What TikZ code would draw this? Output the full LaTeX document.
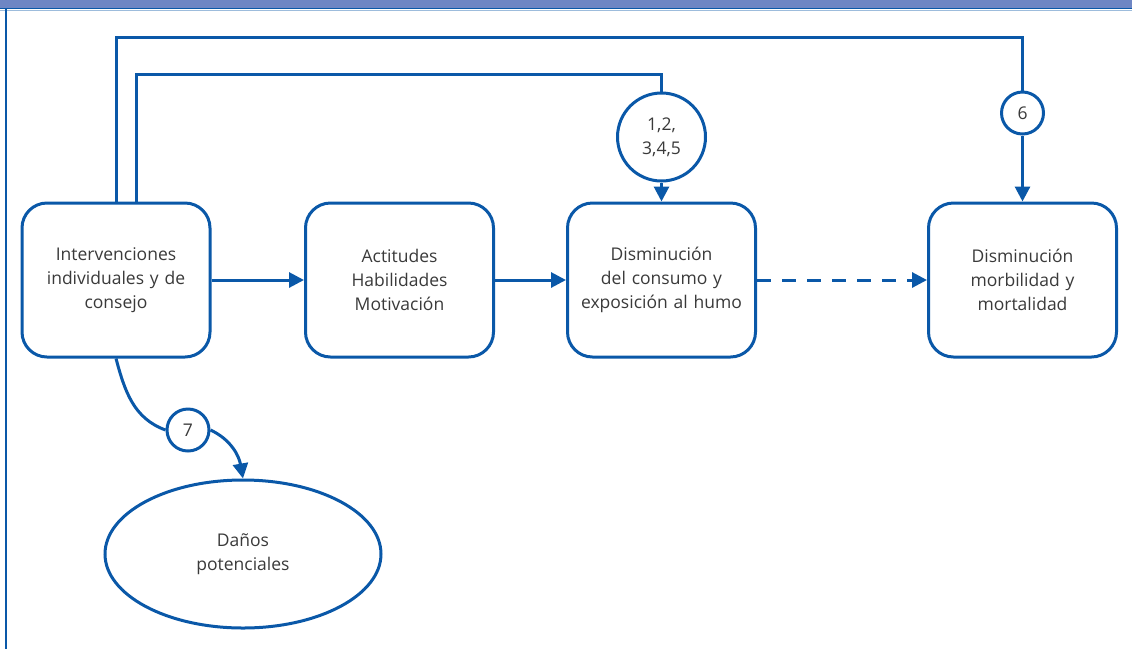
\documentclass[tikz,border=0pt]{standalone}
\usepackage{fontspec}
\setmainfont{Open Sans}
\usepackage{tikz}
\usetikzlibrary{shapes, arrows.meta, positioning, calc}
\definecolor{diagblue}{HTML}{0A58A8}
\definecolor{bandblue}{HTML}{6E86C4}
\definecolor{textgray}{HTML}{3A3A3A}
\tikzstyle{stage} = [rectangle, rounded corners=25pt, minimum width=188pt, minimum height=154pt, text width=180pt, align=center, draw=diagblue, line width=3pt, fill=white, text=textgray, font=\fontsize{17.5}{24}\selectfont]
\tikzstyle{study} = [circle, minimum size=42pt, inner sep=0pt, align=center, draw=diagblue, line width=3pt, fill=white, text=textgray, font=\fontsize{17.5}{24}\selectfont]
\tikzstyle{harm} = [ellipse, minimum width=276pt, minimum height=148pt, align=center, draw=diagblue, line width=3pt, fill=white, text=textgray, font=\fontsize{17.5}{24}\selectfont]
\tikzstyle{link} = [draw=diagblue, line width=3pt]
\tikzstyle{linkarrow} = [link, -{Triangle[length=15pt,width=15pt]}]

\begin{document}
\begin{tikzpicture}[x=1pt, y=-1pt]
\useasboundingbox (0,0) rectangle (1132,649);
\fill[bandblue] (0,0) rectangle (1132,8);
\draw[diagblue, line width=1.5pt] (0,8.5) -- (1132,8.5);
\draw[diagblue!40, line width=1pt] (0,10) -- (1132,10);
\draw[diagblue, line width=2pt] (6,9) -- (6,649);
\node (int1) [stage] at (116,280) {Intervenciones\\individuales y de\\consejo};
\node (act1) [stage] at (399.5,280) {Actitudes\\Habilidades\\Motivación};
\node (dis1) [stage] at (661.5,280) {Disminución\\del consumo y\\exposición al humo};
\node (mor1) [stage] at (1022.5,280) {Disminución\\morbilidad y\\mortalidad};
\node (num15) [study, minimum size=88pt] at (661.5,137) {1,2,\\3,4,5};
\node (num6) [study] at (1022.5,113) {6};
\node (num7) [study] at (188,430) {7};
\node (dan1) [harm] at (243,554) {Daños\\potenciales};
\coordinate (top6) at (1022.5,37);
\coordinate (top15) at (661.5,74);
\draw[link] (int1.north) |- (top6) -- (num6.north);
\draw[linkarrow] (num6.south) -- (mor1.north);
\draw[link] ([xshift=20pt]int1.north) |- (top15) -- (num15.north);
\draw[linkarrow] (num15.south) -- (dis1.north);
\draw[linkarrow] (int1) -- (act1);
\draw[linkarrow] (act1) -- (dis1);
\draw[linkarrow, dashed, dash pattern=on 14pt off 11pt] (dis1) -- (mor1);
\draw[link] (int1.south) to[out=-75, in=160] (num7.west);
\draw[linkarrow] (num7.east) to[out=-25, in=100] (dan1.north);
\end{tikzpicture}
\end{document}
